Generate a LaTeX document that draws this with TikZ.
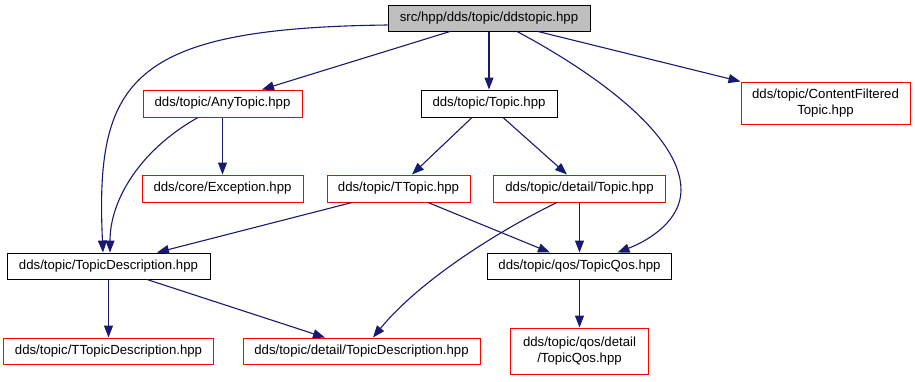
\documentclass[tikz,border=0pt]{standalone}
\usepackage{fontspec}
\setmainfont{Liberation Sans}
\usetikzlibrary{arrows.meta}
\definecolor{edgeblue}{HTML}{191970}
\definecolor{rootgray}{HTML}{BFBFBF}
\definecolor{boxred}{HTML}{FF0000}
\begin{document}
\begin{tikzpicture}[x=1pt,y=-1pt,
  file/.style={draw=black,line width=1pt,inner sep=0pt,minimum height=26pt,
    font=\fontsize{13.2}{15.5}\selectfont,align=center,text=black},
  missing/.style={file,draw=boxred},
  rootfile/.style={file,fill=rootgray},
  dep/.style={draw=edgeblue,line width=1.1pt,
    -{Triangle[length=12pt,width=9pt]},fill=none}]
\useasboundingbox (0,0) rectangle (915,381);

% files
\node[rootfile,minimum width=202pt] (root) at (489,18) {src/hpp/dds/topic/ddstopic.hpp};
\node[missing,minimum width=159pt,minimum height=27pt] (any) at (222.5,103.5) {dds/topic/AnyTopic.hpp};
\node[file,minimum width=136pt,minimum height=27pt] (topic) at (489,103.5) {dds/topic/Topic.hpp};
\node[missing,minimum width=169pt,minimum height=42pt] (cft) at (825.5,103) {dds/topic/ContentFiltered\\Topic.hpp};
\node[missing,minimum width=161pt,minimum height=27pt] (exc) at (222.5,188.5) {dds/core/Exception.hpp};
\node[missing,minimum width=143pt,minimum height=27pt] (ttopic) at (398.5,188.5) {dds/topic/TTopic.hpp};
\node[missing,minimum width=172pt,minimum height=27pt] (dtopic) at (579.5,188.5) {dds/topic/detail/Topic.hpp};
\node[file,minimum width=203pt] (td) at (108.5,266) {dds/topic/TopicDescription.hpp};
\node[file,minimum width=184pt] (qos) at (579.5,266) {dds/topic/qos/TopicQos.hpp};
\node[missing,minimum width=210pt] (ttd) at (108.5,351) {dds/topic/TTopicDescription.hpp};
\node[missing,minimum width=237pt] (dtd) at (361.5,351) {dds/topic/detail/TopicDescription.hpp};
\node[missing,minimum width=138pt,minimum height=46pt] (qosd) at (579.5,351) {dds/topic/qos/detail\\/TopicQos.hpp};

% include edges
\draw[dep] ([yshift=-7pt]root.west) .. controls (130,28) and (95,80) .. ([xshift=-5.5pt]td.north);
\draw[dep] ([xshift=-39pt]root.south) -- ([xshift=39.5pt]any.north);
\draw[dep] (root.south) -- (topic.north);
\draw[dep] ([xshift=49pt]root.south) -- (cft.north west);
\draw[dep] ([xshift=28pt]root.south) .. controls (580,65) and (681,130) .. (681,190)
  .. controls (681,220) and (650,240) .. ([xshift=38pt]qos.north);
\draw[dep] (any.south) -- (exc.north);
\draw[dep] ([xshift=-24.5pt]any.south) .. controls (140,150) and (110,200) .. ([xshift=1.5pt]td.north);
\draw[dep] ([xshift=-17pt]topic.south) -- ([xshift=13.5pt]ttopic.north);
\draw[dep] ([xshift=14pt]topic.south) -- ([xshift=-12.5pt]dtopic.north);
\draw[dep] ([xshift=-46.5pt]ttopic.south) -- ([xshift=48.5pt]td.north);
\draw[dep] ([xshift=29.5pt]ttopic.south) -- ([xshift=-29.5pt]qos.north);
\draw[dep] (dtopic.south) -- (qos.north);
\draw[dep] ([xshift=-22.5pt]dtopic.south) .. controls (500,230) and (420,280) .. ([xshift=11.5pt]dtd.north);
\draw[dep] (td.south) -- (ttd.north);
\draw[dep] ([xshift=38.5pt]td.south) -- ([xshift=-36.5pt]dtd.north);
\draw[dep] (qos.south) -- (qosd.north);
\end{tikzpicture}
\end{document}
